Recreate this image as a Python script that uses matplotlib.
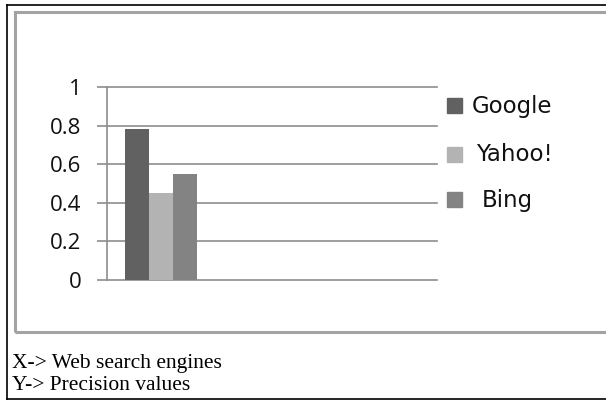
import matplotlib
matplotlib.use("Agg")
import matplotlib.pyplot as plt
from matplotlib.lines import Line2D
from matplotlib.patches import Rectangle

engines = ["Google", "Yahoo!", "Bing"]
precision = [0.78, 0.45, 0.55]
colors = ["#616161", "#b3b3b3", "#838383"]
y_ticks = [0, 0.2, 0.4, 0.6, 0.8, 1]
notes = ["X-> Web search engines", "Y-> Precision values"]

W, H = 606, 400
fig = plt.figure(figsize=(W / 100, H / 100), dpi=100)


def fx(px):
    return px / W


def fy(py):
    return 1 - py / H


# outer black border and grey chart frame
fig.add_artist(Line2D([fx(7), fx(7)], [fy(5), fy(399)], color="black", lw=1.2))
fig.add_artist(Line2D([fx(7), 1], [fy(5), fy(5)], color="black", lw=1.2))
fig.add_artist(Line2D([fx(7), 1], [fy(399), fy(399)], color="black", lw=1.2))
fig.add_artist(Rectangle((fx(15), fy(332)), 1.5, fy(12) - fy(332), fill=False,
                         edgecolor="#a3a3a3", lw=2.2, transform=fig.transFigure))

ax = fig.add_axes([fx(107), fy(280), fx(437) - fx(107), fy(87) - fy(280)])
ax.set_ylim(0, 1)
ax.set_xlim(-0.54, 2.76)

grid_col = "#8e8e8e"
for t in y_ticks:
    ax.axhline(t, color=grid_col, lw=1.2, zorder=1, clip_on=False)

w = 0.24
for i, (name, val, c) in enumerate(zip(engines, precision, colors)):
    ax.bar((i - 1) * w, val, width=w, color=c, label=name, zorder=2)

for s in ["top", "right", "bottom"]:
    ax.spines[s].set_visible(False)
ax.spines["left"].set_color(grid_col)
ax.spines["left"].set_linewidth(1.2)
ax.set_xticks([])
ax.set_yticks(y_ticks)
ax.set_yticklabels([f"{t:g}" for t in y_ticks], family="Open Sans", fontsize=16)
ax.tick_params(axis="y", direction="out", length=7.5, width=1.2, color=grid_col,
               pad=11, labelcolor="#111111")
ax.patch.set_alpha(0)

# legend drawn as separate entries
leg_y = [106, 155, 200]
leg_x = [472, 476, 482]
for name, c, ly, lx in zip(engines, colors, leg_y, leg_x):
    fig.add_artist(Rectangle((fx(447), fy(ly + 7)), fx(15), fy(ly - 8) - fy(ly + 7),
                             color=c, transform=fig.transFigure))
    fig.text(fx(lx), fy(ly), name, fontsize=16.5, va="center", ha="left",
             family="DejaVu Sans", color="#111111")

for k, line in enumerate(notes):
    fig.text(fx(12), fy(368 + 22 * k), line, fontsize=15.5, family="Liberation Serif",
             va="baseline", ha="left")

fig.savefig("out.png", dpi=100)
